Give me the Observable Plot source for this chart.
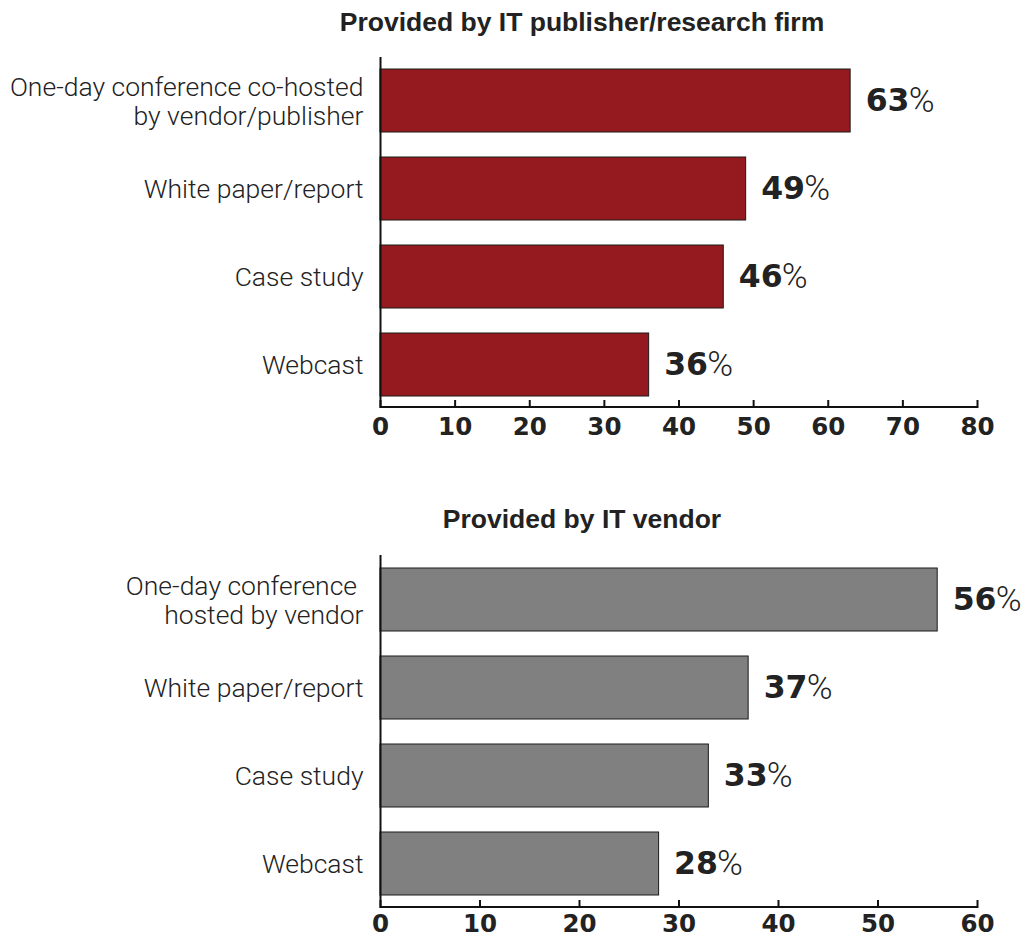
<!DOCTYPE html>
<html><head><meta charset="utf-8">
<script src="https://cdn.jsdelivr.net/npm/d3@7"></script>
<script src="https://cdn.jsdelivr.net/npm/@observablehq/plot@0.6"></script>
<style>
body{margin:0;background:#fff;width:1030px;height:938px;position:relative;overflow:hidden;font-family:"Liberation Sans",Arial,sans-serif;}
.title{position:absolute;left:582px;transform:translateX(-50%);font-family:"Liberation Sans",Arial,sans-serif;font-weight:bold;font-size:26.5px;line-height:30px;color:#222;white-space:nowrap;}
.chart{position:absolute;left:0;}
</style></head><body>
<div class="title" style="top:7px">Provided by IT publisher/research firm</div>
<div class="chart" id="c1" style="top:40px"></div>
<div class="title" style="top:504px">Provided by IT vendor</div>
<div class="chart" id="c2" style="top:540px"></div>
<script>
const publisherCategories = ["One-day conference co-hosted\nby vendor/publisher", "White paper/report", "Case study", "Webcast"];
const publisherValues = [63, 49, 46, 36];
const publisherTicks = [0, 10, 20, 30, 40, 50, 60, 70, 80];

const vendorCategories = ["One-day conference \nhosted by vendor", "White paper/report", "Case study", "Webcast"];
const vendorValues = [56, 37, 33, 28];
const vendorTicks = [0, 10, 20, 30, 40, 50, 60];

function makeChart(cats, vals, ticks, color, marginTop, rangeH, marginBottom, tickPadding) {
  const data = cats.map((c, i) => ({category: c, value: vals[i]}));
  const max = ticks[ticks.length - 1];
  return Plot.plot({
    width: 1030,
    height: marginTop + rangeH + marginBottom,
    marginLeft: 380,
    marginRight: 53,
    marginTop,
    marginBottom,
    style: {fontFamily: "Liberation Sans, Arial, sans-serif", background: "#fff"},
    x: {domain: [0, max]},
    y: {domain: cats, paddingInner: 0.28, paddingOuter: 0.128},
    marks: [
      Plot.barX(data, {x: "value", y: "category", fill: color, stroke: "#1a1a1a", strokeWidth: 1}),
      Plot.ruleX([0], {stroke: "#111", strokeWidth: 2}),
      Plot.tickX(ticks, {x: d => d, insetTop: rangeH - 8, stroke: "#111", strokeWidth: 2}),
      Plot.rect([0], {x1: 0, x2: max, insetTop: rangeH - 2, fill: "#111"}),
      Plot.axisX(ticks, {anchor: "bottom", tickSize: 0, tickPadding, fontSize: 24.5, fontWeight: "bold", fontFamily: "DejaVu Sans, sans-serif", fill: "#222", label: null}),
      Plot.axisY({anchor: "left", tickSize: 0, tickPadding: 17, fontSize: 26.5, fontWeight: 300, fontFamily: "Roboto, Liberation Sans, sans-serif", fill: "#222", lineHeight: 1.1, label: null}),
      Plot.text(data, {x: "value", y: "category", text: d => String(d.value), dx: 15, textAnchor: "start", fontSize: 31.5, fontWeight: "bold", fontFamily: "DejaVu Sans, sans-serif", fill: "#222"}),
      Plot.text(data, {x: "value", y: "category", text: () => "%", dx: 58, textAnchor: "start", fontSize: 35, fontWeight: 300, fontFamily: "Roboto, Liberation Sans, sans-serif", fill: "#222"})
    ]
  });
}

document.getElementById("c1").append(makeChart(publisherCategories, publisherValues, publisherTicks, "#951a20", 17, 351, 40, 9));
document.getElementById("c2").append(makeChart(vendorCategories, vendorValues, vendorTicks, "#808080", 15, 353, 30, 6));
</script>
</body></html>
